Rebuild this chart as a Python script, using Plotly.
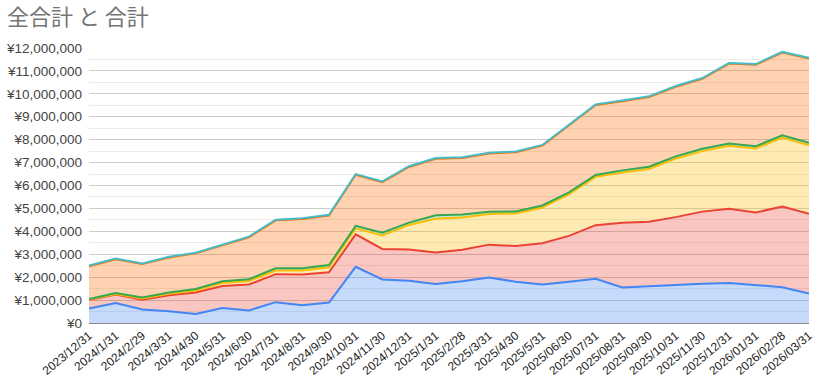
import plotly.graph_objects as go

dates = ["2023/12/31", "2024/1/31", "2024/2/29", "2024/3/31", "2024/4/30", "2024/5/31",
         "2024/6/30", "2024/7/31", "2024/8/31", "2024/9/30", "2024/10/31", "2024/11/30",
         "2024/12/31", "2025/1/31", "2025/2/28", "2025/3/31", "2025/4/30", "2025/5/31",
         "2025/06/30", "2025/07/31", "2025/08/31", "2025/09/30", "2025/10/31", "2025/11/30",
         "2025/12/31", "2026/01/31", "2026/02/28", "2026/03/31"]

blue = [630000, 870000, 590000, 510000, 390000, 650000, 550000, 910000, 780000, 890000,
        2450000, 1900000, 1840000, 1700000, 1820000, 1980000, 1800000, 1680000, 1800000, 1930000,
        1550000, 1610000, 1660000, 1710000, 1750000, 1640000, 1560000, 1290000]
red = [370000, 370000, 430000, 700000, 940000, 960000, 1130000, 1220000, 1340000, 1320000,
       1420000, 1330000, 1370000, 1380000, 1380000, 1440000, 1560000, 1800000, 2000000, 2340000,
       2830000, 2810000, 2960000, 3150000, 3240000, 3180000, 3520000, 3480000]
yellow = [20000, 30000, 50000, 70000, 90000, 140000, 150000, 160000, 170000, 220000,
          260000, 590000, 1070000, 1470000, 1400000, 1340000, 1420000, 1560000, 1820000, 2110000,
          2190000, 2300000, 2560000, 2640000, 2740000, 2800000, 3010000, 2990000]
green = [30000, 40000, 40000, 50000, 60000, 70000, 80000, 100000, 100000, 100000,
         110000, 120000, 100000, 150000, 130000, 90000, 90000, 90000, 80000, 80000,
         90000, 100000, 90000, 100000, 100000, 90000, 100000, 100000]
orange = [1430000, 1470000, 1460000, 1530000, 1560000, 1580000, 1830000, 2090000, 2150000, 2160000,
          2230000, 2210000, 2430000, 2470000, 2470000, 2550000, 2580000, 2610000, 2920000, 3050000,
          3020000, 3040000, 3040000, 3060000, 3490000, 3560000, 3610000, 3680000]
teal = [30000, 30000, 30000, 30000, 30000, 30000, 30000, 30000, 30000, 30000,
        30000, 30000, 30000, 30000, 30000, 30000, 30000, 30000, 30000, 30000,
        30000, 30000, 30000, 30000, 30000, 30000, 30000, 30000]

series = [
    ("系列1", blue, "#4285F4", "rgba(66,133,244,0.3)"),
    ("系列2", red, "#EA4335", "rgba(234,67,53,0.3)"),
    ("系列3", yellow, "#FBBC04", "rgba(251,188,4,0.3)"),
    ("系列4", green, "#34A853", "rgba(52,168,83,0.3)"),
    ("系列5", orange, "#FF6D01", "rgba(255,109,1,0.3)"),
    ("全合計", teal, "#46BDC6", "rgba(70,189,198,0.3)"),
]

fig = go.Figure()
for name, vals, lc, fc in series:
    fig.add_trace(go.Scatter(
        x=dates, y=vals, name=name, mode="lines", stackgroup="one",
        line=dict(color=lc, width=2), fillcolor=fc,
    ))

fig.update_layout(
    width=820, height=388,
    margin=dict(l=89, r=11, t=48, b=65),
    paper_bgcolor="white", plot_bgcolor="white",
    showlegend=False,
    font=dict(family="Liberation Sans, Arial, sans-serif", color="#222222"),
    title=dict(text="全合計 と 合計", x=7 / 820, xref="container", xanchor="left",
               y=1 - 17 / 388, yref="container", yanchor="middle",
               pad=dict(l=0, r=0, t=0, b=0),
               font=dict(family="Noto Sans CJK JP, sans-serif", size=22, color="#757575")),
)
fig.update_xaxes(
    type="category", range=[0, len(dates) - 1], tickangle=-40, automargin=False,
    tickfont=dict(size=12, color="#222222"), showgrid=False,
    showline=True, linecolor="#888888", linewidth=1, ticks="",
)
fig.update_yaxes(
    range=[0, 12000000], dtick=1000000, tickprefix="¥", tickformat=",d", automargin=False,
    tickfont=dict(size=13.5, color="#444444"),
    showgrid=True, gridcolor="#cccccc", gridwidth=1,
    minor=dict(dtick=500000, showgrid=True, gridcolor="#ebebeb", gridwidth=1),
    zeroline=False, ticks="", ticklabelstandoff=6,
)

fig.write_html("out.html", config={"displayModeBar": False},
               post_script="document.body.style.margin='0';document.body.style.overflow='hidden';")
